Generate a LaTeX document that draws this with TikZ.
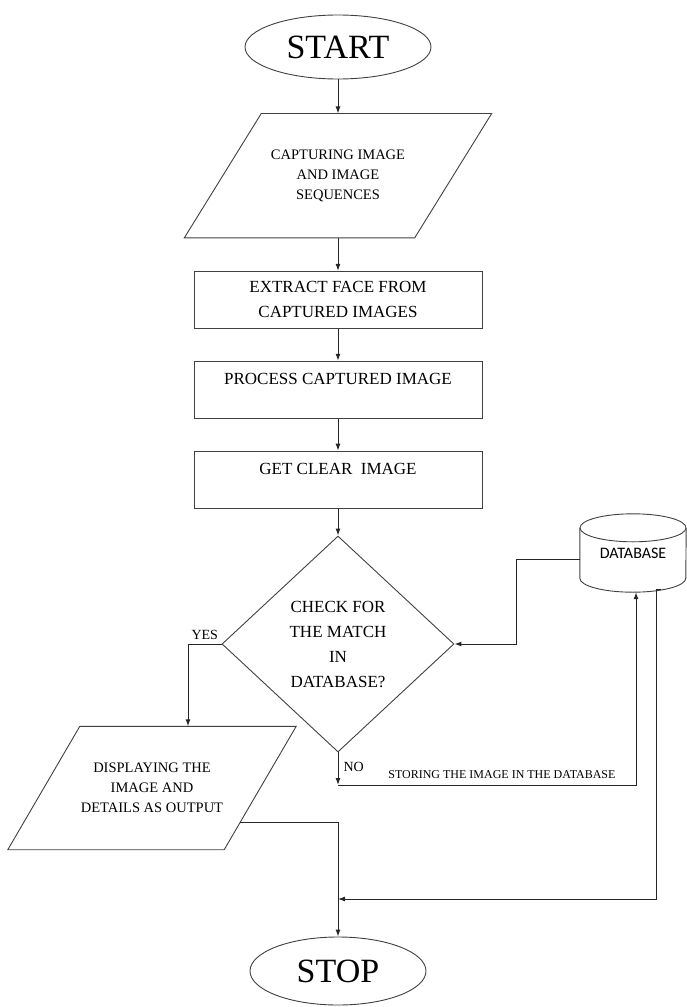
\documentclass[tikz,border=0pt]{standalone}
\usepackage{fontspec}
\setmainfont{Liberation Serif}
\newfontfamily\dbfont{Carlito}
\usetikzlibrary{arrows.meta,positioning,shapes.geometric,calc}

\begin{document}
\begin{tikzpicture}[x=1pt,y=-1pt,
        conn/.style={draw=black!85,line width=1pt},
        arr/.style={conn,-{Latex[length=7pt,width=5pt]}},
        outline/.style={draw=black!75,line width=0.9pt},
        terminal/.style={ellipse,outline,inner sep=0pt,
            font=\fontsize{34}{40}\selectfont},
        io/.style={rectangle,inner sep=0pt,align=center,
            font=\fontsize{14.5}{20}\selectfont},
        process/.style={rectangle,outline,minimum width=288pt,
            minimum height=57pt,align=center,font=\fontsize{17}{25}\selectfont},
        decision/.style={diamond,outline,minimum width=232pt,
            minimum height=216pt,inner sep=0pt,align=center,
            font=\fontsize{17}{25}\selectfont},
        datastore/.style={rectangle,inner sep=0pt,minimum width=106pt,
            minimum height=78pt,font=\dbfont\fontsize{16}{18}\selectfont},
        lbl/.style={font=\fontsize{14}{16}\selectfont,inner sep=2pt}]

        \useasboundingbox (0,0) rectangle (686,1007);

        \node[terminal,minimum width=186pt,minimum height=64pt] (start) at (338,47) {START};
        \node[io,minimum width=230pt,minimum height=124pt] (cap) [below=34pt of start]
              {CAPTURING IMAGE\\AND IMAGE\\SEQUENCES};
        \node[process]               (extract) [below=33pt of cap]     {EXTRACT FACE FROM\\CAPTURED IMAGES};
        \node[process,text depth=22pt] (proc)  [below=32pt of extract] {PROCESS CAPTURED IMAGE};
        \node[process,text depth=22pt] (clear) [below=32pt of proc]    {GET CLEAR\ \ IMAGE};
        \node[decision]              (check)   [below=27pt of clear]   {CHECK FOR\\THE MATCH\\IN\\DATABASE?};
        \node[io,minimum width=216pt,minimum height=123pt] (disp) at (152,788)
              {DISPLAYING THE\\IMAGE AND\\DETAILS AS OUTPUT};
        \node[datastore]             (db)      at (633,553)            {DATABASE};
        \node[terminal,minimum width=176pt,minimum height=68pt] (stop) at (338,971) {STOP};

        % slanted sides of the input/output boxes
        \foreach \n/\s in {cap/38.5,disp/36}
            \draw[outline] ([xshift=-\s pt]\n.south west) coordinate (\n-bl)
                -- ([xshift=\s pt]\n.north west) coordinate (\n-tl)
                -- ([xshift=\s pt]\n.north east) coordinate (\n-tr)
                -- ([xshift=-\s pt]\n.south east) coordinate (\n-br) -- cycle;

        % database drum
        \draw[outline] ([yshift=-14pt]db.north) ellipse [x radius=53pt,y radius=14pt];
        \draw[outline] ([yshift=-14pt]db.north west) -- ([yshift=14pt]db.south west)
            arc [start angle=180,end angle=360,x radius=53pt,y radius=14pt]
            -- ([yshift=-14pt]db.north east);

        \coordinate (save)  at (636,785);
        \coordinate (merge) at (338,899);

        \path   (start)   edge[arr] (cap)
                (cap)     edge[arr] (extract)
                (extract) edge[arr] (proc)
                (proc)    edge[arr] (clear)
                (clear)   edge[arr] (check);

        % yes branch
        \draw[arr] (check.west) -| node[lbl,above,pos=0.25,yshift=2pt] {YES} ($(disp-tl)!0.5!(disp-tr)$);
        \draw[arr] ($(disp-br)!0.22!(disp-tr)$) -| (stop.north);

        % no branch
        \draw[arr] (check.south) -- node[lbl,right,pos=0.45,xshift=3pt] {NO} (check.south |- save);
        \draw[arr] (check.south |- save) -- node[above,pos=0.55,yshift=3pt,font=\fontsize{12}{14}\selectfont]
              {STORING THE IMAGE IN THE DATABASE} (save) -- (save |- db.south);

        % database links
        \draw[arr] ([yshift=-6pt]db.west) -- ++(-63,0) |- (check.east);
        \draw[arr] ([xshift=28pt,yshift=3pt]db.south) -- ++(-5,0) |- (merge);

\end{tikzpicture}
\end{document}
